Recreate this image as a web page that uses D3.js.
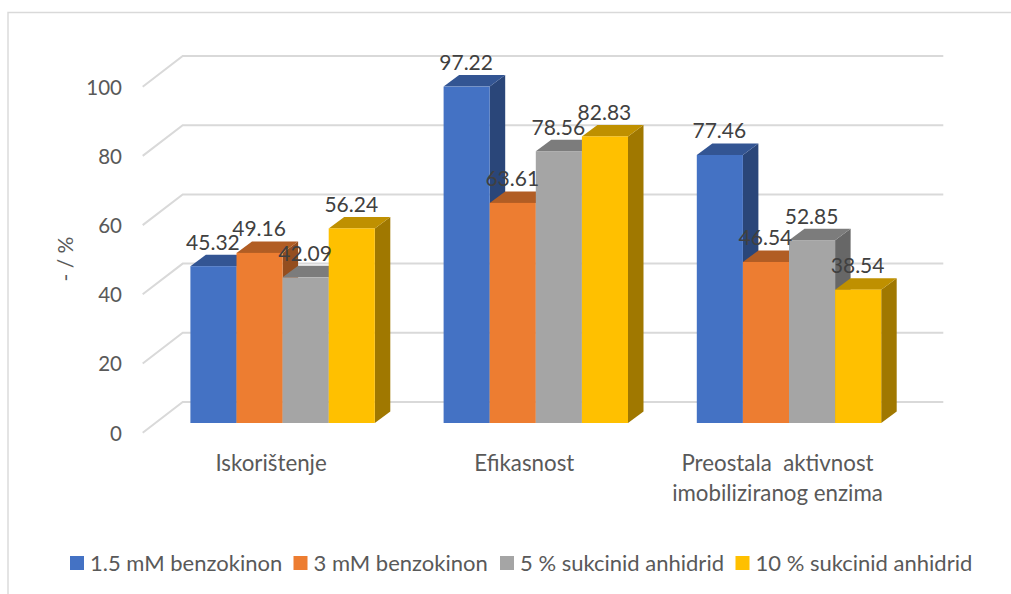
<!DOCTYPE html>
<html><head><meta charset="utf-8">
<script src="https://cdn.jsdelivr.net/npm/d3@7"></script>
<style>html,body{margin:0;padding:0;background:#fff}svg{display:block}text{font-family:Lato,sans-serif;fill:#595959;white-space:pre}</style>
</head><body><svg id="c" width="1011" height="594"></svg>
<script>
const categories = ["Iskorištenje","Efikasnost","Preostala  aktivnost|imobiliziranog enzima"];
const seriesNames = ["1.5 mM benzokinon","3 mM benzokinon","5 % sukcinid anhidrid","10 % sukcinid anhidrid"];
const s1 = [45.32,97.22,77.46];
const s2 = [49.16,63.61,46.54];
const s3 = [42.09,78.56,52.85];
const s4 = [56.24,82.83,38.54];
const yTicks = [0,20,40,60,80,100];
const colors = ["#4472C4","#ED7D31","#A5A5A5","#FFC000"];
const tops = ["#335593","#B15D24","#7C7C7C","#BF9000"];
const sides = ["#2A4679","#944E1F","#676767","#A07800"];
const allSeries = [s1,s2,s3,s4];

const svg = d3.select("#c");
const y = d3.scaleLinear().domain([0,100]).range([423,77]);
const x = d3.scaleBand().domain(categories).range([156,915.6]);
const groupW = 184.4;
const inner = d3.scaleBand().domain(seriesNames).range([0,groupW]);
const wall = {dx:26.7, dy:-21};
const floorFront = {dx:-13.3, dy:9.7};
const depth = {dx:15.5, dy:-11.5};

svg.append("path").attr("d","M8,594V12.5H1011").attr("fill","none").attr("stroke","#D9D9D9").attr("stroke-width",1.4);

const grid = svg.append("g").attr("fill","none").attr("stroke","#D9D9D9").attr("stroke-width",2);
yTicks.forEach(t=>{
  const yy=y(t);
  grid.append("path").attr("d",d3.line()([
    [x.range()[0]+floorFront.dx,yy+floorFront.dy],
    [x.range()[0]+wall.dx,yy+wall.dy],
    [x.range()[1]+wall.dx+1,yy+wall.dy]]));
});

svg.append("g").selectAll("text").data(yTicks).join("text")
  .attr("x",122).attr("y",d=>y(d)+9.5).attr("text-anchor","end")
  .attr("dominant-baseline","central").attr("font-size",20.5).text(d=>d);
svg.append("text").attr("transform","translate(64,259) rotate(-90)").attr("text-anchor","middle")
  .attr("dominant-baseline","central").attr("font-size",21).text("- / %");

categories.forEach((c,ci)=>{
  const gx = x(c)+(x.bandwidth()-groupW)/2;
  const g = svg.append("g");
  seriesNames.forEach((n,si)=>{
    const v = allSeries[si][ci];
    const x0 = gx+inner(n), x1 = x0+inner.bandwidth();
    const y0 = y(0), yt = y(v), d = depth;
    g.append("path").attr("fill",sides[si]).attr("d",d3.line()([[x1,y0],[x1+d.dx,y0+d.dy],[x1+d.dx,yt+d.dy],[x1,yt]])+"Z");
    g.append("path").attr("fill",tops[si]).attr("d",d3.line()([[x0,yt],[x0+d.dx,yt+d.dy],[x1+d.dx,yt+d.dy],[x1,yt]])+"Z");
    g.append("rect").attr("x",x0).attr("y",yt).attr("width",inner.bandwidth()).attr("height",y0-yt).attr("fill",colors[si]);
  });
});

categories.forEach((c,ci)=>{
  const gx = x(c)+(x.bandwidth()-groupW)/2;
  seriesNames.forEach((n,si)=>{
    const v = allSeries[si][ci];
    svg.append("text").attr("x",gx+inner(n)+inner.bandwidth()/2-0.5).attr("y",y(v)-25)
      .attr("text-anchor","middle").attr("dominant-baseline","central").attr("font-size",21).style("fill","#404040").text(v.toFixed(2));
  });
});

categories.forEach(c=>{
  const cx = x(c)+x.bandwidth()/2-11.5;
  c.split("|").forEach((line,i)=>{
    svg.append("text").attr("x",cx).attr("y",462+i*30).attr("text-anchor","middle")
      .attr("dominant-baseline","central").attr("font-size",22.3).text(line);
  });
});

const legX = [70,293.5,500,735.5];
const leg = svg.append("g");
seriesNames.forEach((n,i)=>{
  leg.append("rect").attr("x",legX[i]).attr("y",556).attr("width",14).attr("height",14).attr("fill",colors[i]);
  leg.append("text").attr("x",legX[i]+20).attr("y",562).attr("dominant-baseline","central").attr("font-size",22).text(n);
});
</script></body></html>
